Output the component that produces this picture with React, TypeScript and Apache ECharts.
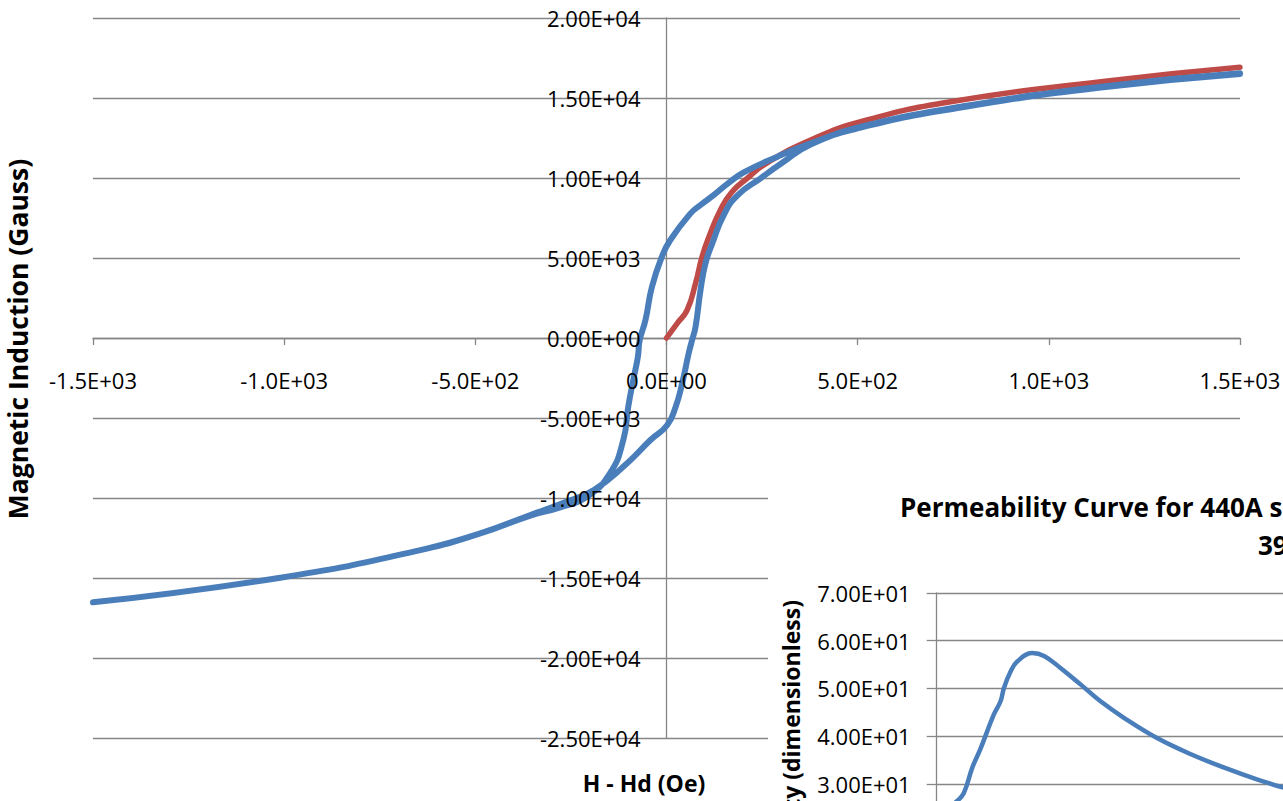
import React, { useEffect, useRef } from "react";
import * as echarts from "echarts";

// Hysteresis loop (blue): descending branch from +1500 Oe, then ascending branch back
const loopH = [
  1500, 1136, 770, 508, 377, 290, 202, 160, 124, 89, 63, 10, -12, -38, -55, -70, -75, -87, -100, -113,
  -148, -208, -280, -356, -487, -661, -1010, -1500,
  -1010, -661, -487, -356, -269, -190, -103, -42, 2, 24, 41, 58, 67, 76, 89, 102, 120, 150, 185, 246,
  300, 377, 508, 770, 1136, 1500,
];
const loopB = [
  16540, 15708, 14450, 13208, 12170, 11333, 10350, 9650, 8940, 8313, 7790, 6125, 5080, 3200, 1125, -125,
  -1200, -2625, -4290, -6375, -8460, -9920, -10600, -11100, -12210, -13350, -14980, -16520,
  -14980, -13350, -12210, -11060, -10300, -9500, -7830, -6375, -5440, -4290, -2830, -960, -125, 700, 3000,
  4670, 5920, 7700, 8900, 9980, 10900, 12100, 13150, 14400, 15650, 16500,
];

// Initial magnetization curve (red)
const virginH = [0, 28, 54, 76, 93, 111, 141, 170, 211, 260, 377, 508, 743, 1136, 1500];
const virginB = [0, 920, 1750, 3420, 5080, 6330, 8000, 9100, 9980, 10900, 12375, 13520, 14770, 16020, 16917];

// Permeability curve (inset)
const permH = [34, 48, 63, 78, 101, 113, 119, 131, 143, 169, 190, 219, 255, 290, 332, 390, 450, 509, 568, 620];
const permMu = [26.2, 28.1, 33.4, 37.5, 44.5, 47.3, 50.1, 53.6, 55.7, 57.4, 56.8, 54.3, 50.8, 47.3, 43.8, 39.6, 36.2, 33.4, 30.9, 29.0];

const insetTitleLines = ["Permeability Curve for 440A s", "39"];

// Axis ranges
const H_MIN = -1500, H_MAX = 1500, H_STEP = 500;
const B_MIN = -25000, B_MAX = 20000, B_STEP = 5000;
const MU_MIN = 0, MU_MAX = 70, MU_STEP = 10;

// Plot area layout
const MAIN = { left: 93, top: 18, width: 1147, height: 720 };
const INSET = { left: 936.7, top: 593, width: 565, height: 334 };

const BLUE = "#4A7EBB";
const RED = "#BE4B48";
const GRID = "#868686";
const FONT = "Open Sans";

// Excel-style scientific notation: 2.00E+04
function sci(v: number, digits: number): string {
  const s = v.toExponential(digits);
  const [m, e] = s.split("e");
  return m + "E" + e[0] + e.slice(1).padStart(2, "0");
}

const zip = (a: number[], b: number[]) => a.map((x, i) => [x, b[i]]);

export default function App() {
  const ref = useRef<HTMLDivElement>(null);

  useEffect(() => {
    if (!ref.current) return;
    const chart = echarts.init(ref.current, undefined, { renderer: "svg" });

    const labelStyle = { fontFamily: FONT, fontSize: 22, color: "#000" };
    const gridLine = { color: GRID, width: 1.3 };

    // The axes cross at the origin: shift each axis inward to the other axis' zero
    const xAxisOffset = -((0 - B_MIN) / (B_MAX - B_MIN)) * MAIN.height;
    const yAxisOffset = -((0 - H_MIN) / (H_MAX - H_MIN)) * MAIN.width;

    const titleFont = (size: number) => `bold ${size}px "${FONT}"`;

    const hScale = { type: "value", min: H_MIN, max: H_MAX, interval: H_STEP };
    const bScale = { type: "value", min: B_MIN, max: B_MAX, interval: B_STEP };

    chart.setOption({
      animation: false,
      backgroundColor: "#fff",
      grid: [
        { ...MAIN, containLabel: false, outerBoundsMode: "none" },
        { ...INSET, containLabel: false, outerBoundsMode: "none" },
      ],
      xAxis: [
        // main H axis: line and ticks beneath the curves
        {
          gridIndex: 0,
          ...hScale,
          position: "bottom",
          offset: xAxisOffset,
          z: 0,
          axisLine: { show: true, onZero: false, lineStyle: gridLine },
          axisTick: { show: true, length: 7, lineStyle: gridLine },
          axisLabel: { show: false },
          splitLine: { show: false },
        },
        // main H axis: tick labels drawn above the curves
        {
          gridIndex: 0,
          ...hScale,
          position: "bottom",
          offset: xAxisOffset,
          z: 4,
          axisLine: { show: false, onZero: false },
          axisTick: { show: false },
          axisLabel: { ...labelStyle, margin: 31, formatter: (v: number) => sci(v, 1) },
          splitLine: { show: false },
        },
        { gridIndex: 1, type: "value", min: 0, max: 1000, show: false, z: 11 },
      ],
      yAxis: [
        {
          gridIndex: 0,
          ...bScale,
          position: "left",
          offset: yAxisOffset,
          z: 0,
          axisLine: { show: true, onZero: false, lineStyle: gridLine },
          axisTick: { show: false },
          axisLabel: { show: false },
          splitLine: { show: true, lineStyle: gridLine },
        },
        {
          gridIndex: 0,
          ...bScale,
          position: "left",
          offset: yAxisOffset,
          z: 4,
          axisLine: { show: false, onZero: false },
          axisTick: { show: false },
          axisLabel: { ...labelStyle, margin: 26, formatter: (v: number) => sci(v, 2) },
          splitLine: { show: false },
        },
        {
          gridIndex: 1,
          type: "value",
          min: MU_MIN,
          max: MU_MAX,
          interval: MU_STEP,
          z: 11,
          axisLine: { show: true, onZero: false, lineStyle: gridLine },
          axisTick: { show: true, length: 10, lineStyle: gridLine },
          axisLabel: { ...labelStyle, margin: 26, formatter: (v: number) => sci(v, 2) },
          splitLine: { show: true, lineStyle: gridLine },
        },
      ],
      series: [
        {
          type: "line",
          name: "Initial",
          xAxisIndex: 0,
          yAxisIndex: 0,
          data: zip(virginH, virginB),
          showSymbol: false,
          smooth: 0.5,
          z: 2,
          lineStyle: { color: RED, width: 5.5, cap: "round", join: "round" },
        },
        {
          type: "line",
          name: "Loop",
          xAxisIndex: 0,
          yAxisIndex: 0,
          data: zip(loopH, loopB),
          showSymbol: false,
          smooth: 0.5,
          z: 3,
          lineStyle: { color: BLUE, width: 6, cap: "round", join: "round" },
        },
        {
          type: "line",
          name: "Permeability",
          xAxisIndex: 2,
          yAxisIndex: 2,
          data: zip(permH, permMu),
          showSymbol: false,
          smooth: 0.4,
          z: 12,
          lineStyle: { color: BLUE, width: 4.5, cap: "round", join: "round" },
        },
      ],
      graphic: [
        {
          type: "text",
          z: 1,
          x: 18,
          y: 339,
          rotation: Math.PI / 2,
          style: {
            text: "Magnetic Induction (Gauss)",
            font: titleFont(26.5),
            fill: "#000",
            align: "center",
            verticalAlign: "middle",
          },
        },
        {
          type: "text",
          z: 1,
          x: 644,
          y: 783,
          style: {
            text: "H - Hd (Oe)",
            font: titleFont(23),
            fill: "#000",
            align: "center",
            verticalAlign: "middle",
          },
        },
        {
          type: "rect",
          z: 10,
          shape: { x: 768, y: 460, width: 600, height: 400 },
          style: { fill: "#fff" },
        },
        {
          type: "text",
          z: 12,
          x: 900,
          y: 507,
          style: {
            text: insetTitleLines[0],
            font: titleFont(26),
            fill: "#000",
            align: "left",
            verticalAlign: "middle",
          },
        },
        {
          type: "text",
          z: 12,
          x: 1258,
          y: 545,
          style: {
            text: insetTitleLines[1],
            font: titleFont(26),
            fill: "#000",
            align: "left",
            verticalAlign: "middle",
          },
        },
        {
          type: "text",
          z: 12,
          x: 791,
          y: 600,
          rotation: Math.PI / 2,
          style: {
            text: "Permeability (dimensionless)",
            font: titleFont(23),
            fill: "#000",
            align: "right",
            verticalAlign: "middle",
          },
        },
      ],
    });

    return () => chart.dispose();
  }, []);

  return (
    <div
      ref={ref}
      style={{ position: "fixed", left: 0, top: 0, width: 1283, height: 801, background: "#fff" }}
    />
  );
}
